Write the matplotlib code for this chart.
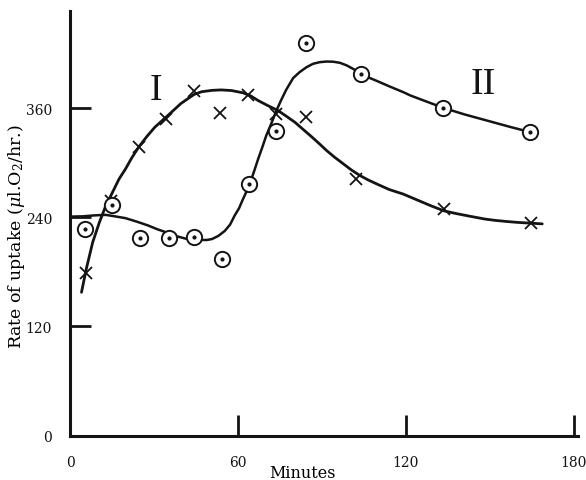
import matplotlib.pyplot as plt

plt.rcParams["font.family"] = "DejaVu Serif"
plt.rcParams["mathtext.fontset"] = "dejavuserif"

# ====== data ======
# curve I (crosses)
cross_min = [5.8, 14.6, 24.5, 34.3, 44.3, 53.6, 63.6, 73.7, 84.2, 102.1, 133.6, 164.5]
cross_rate = [179, 258, 317, 348, 379, 355, 374, 354, 350, 282, 249, 234]

# curve II (circles)
circ_min = [5.2, 15.1, 25.0, 35.5, 44.3, 54.4, 63.8, 73.7, 84.4, 103.9, 133.4, 164.2]
circ_rate = [227, 253, 217, 217, 218, 194, 277, 335, 432, 398, 360, 334]

# hand-drawn fitted lines
line1_min = [4.1, 5.8, 8.1, 10.5, 12.8, 14.6, 17.5, 19.8, 22.0, 24.5, 27.5, 30.3,
             35.0, 39.6, 44.3, 47.0, 50.7, 54.0, 57.7, 61.8, 64.5, 67.2, 70.5,
             74.3, 77.3, 80.3, 83.3, 86.3, 89.0, 91.6, 94.5, 97.3, 100.5, 103.6,
             106.5, 109.5, 114.0, 119.0, 124.0, 129.0, 133.6, 138.0, 143.0, 148.2,
             152.0, 156.0, 160.0, 164.5, 168.7]
line1_rate = [157.5, 183, 212.5, 234.5, 252.8, 263.8, 282, 293, 305, 317, 329, 339,
              352, 365, 375, 378, 379.5, 380, 379.3, 376.8, 373.5, 368.3, 363,
              357.3, 351, 344.5, 336.5, 328.5, 321, 313.5, 306, 299.5, 292, 285.8,
              281, 276.7, 270.5, 265.5, 259, 252.5, 247, 244, 241, 238,
              236.5, 235.3, 234.3, 233.5, 232.7]

line2_min = [0, 4.6, 8.5, 12.8, 16.0, 19.8, 24.0, 28.0, 31.0, 33.8, 37.0, 41.9,
             45.5, 48.9, 50.7, 53.0, 55.3, 57.2, 58.8, 60.4, 61.8, 63.0, 64.2,
             65.7, 67.2, 68.7, 70.1, 71.9, 73.7, 75.3, 77.2, 79.7, 82.0, 84.5,
             86.8, 89.2, 91.6, 94.0, 96.4, 98.8, 101.2, 104.1, 106.8, 109.5,
             114.0, 119.0, 121.5, 127.5, 133.6, 141.0, 149.3, 157.0, 164.5]
line2_rate = [240.7, 241, 242, 242.6, 241, 239, 235, 230.8, 227, 224, 220, 216,
              215, 215, 216, 219.5, 225, 232, 241.8, 250, 260, 268, 276.7,
              290, 304, 317, 329.8, 343, 357, 368, 380, 393, 399.5, 405,
              408.7, 410.5, 411.2, 411, 409.8, 407, 403, 397.7, 393.5, 390,
              384, 377.6, 374, 367, 360, 353, 346, 339.5, 333.5]

ink = "#141414"

fig = plt.figure(figsize=(5.86, 4.81), dpi=100)
ax = fig.add_axes([0.1195, 0.0925, 0.867, 0.883])

ax.plot(line1_min, line1_rate, color=ink, lw=2.0, solid_joinstyle="round",
        solid_capstyle="round", zorder=2)
ax.plot(line2_min, line2_rate, color=ink, lw=1.8, solid_joinstyle="round",
        solid_capstyle="round", zorder=2)

ax.plot(cross_min, cross_rate, ls="none", marker="x", ms=9, mew=1.3, color=ink, zorder=3)
ax.plot(circ_min, circ_rate, ls="none", marker="o", ms=11, mew=1.4,
        mfc="white", mec=ink, zorder=4)
ax.plot(circ_min, circ_rate, ls="none", marker="o", ms=2, color=ink, zorder=5)

ax.text(30.7, 380, "I", fontsize=27, ha="center", va="center", color=ink,
        family="Liberation Serif")
ax.text(147.6, 387, "II", fontsize=27, ha="center", va="center", color=ink,
        family="Liberation Serif")

ax.set_xlim(0, 181.5)
ax.set_ylim(0, 467)
ax.set_xticks([0, 60, 120, 180])
ax.set_yticks([0, 120, 240, 360])
ax.tick_params(direction="in", length=15, width=2, pad=14, labelsize=10, colors=ink)
ax.tick_params(axis="y", pad=13)

for s in ["top", "right"]:
    ax.spines[s].set_visible(False)
for s in ["left", "bottom"]:
    ax.spines[s].set_linewidth(2.2)
    ax.spines[s].set_color(ink)

ax.set_xlabel("Minutes", fontsize=11.5, va="center")
ax.xaxis.set_label_coords(0.457, -0.086)
ax.set_ylabel(r"Rate of uptake ($\mu$l.O$_2$/hr.)", fontsize=12.5, va="center")
ax.yaxis.set_label_coords(-0.105, 0.471)

fig.savefig("out.png", dpi=100)
